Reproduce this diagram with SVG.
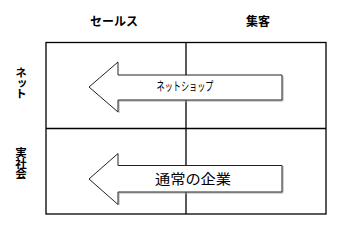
<svg xmlns="http://www.w3.org/2000/svg" width="346" height="230" viewBox="0 0 346 230">
<style>
.t{font-family:"Noto Sans CJK JP","Noto Sans CJK SC",sans-serif;fill:#000}
.h{font-size:12px;font-weight:bold}
.v{font-size:11.5px;font-weight:bold;writing-mode:vertical-rl;letter-spacing:-1px}
.grid{fill:none;stroke:#000;stroke-width:1.3}
.arrow{fill:#fff;stroke:#222;stroke-width:1}
.shadow{fill:none;stroke:#aaa;stroke-width:1}
</style>
<rect width="346" height="230" fill="#fff"/>
<g id="grid">
<rect class="grid" x="46" y="42.5" width="280" height="171.5"/>
<line class="grid" x1="186" y1="42.5" x2="186" y2="214"/>
<line class="grid" x1="46" y1="128.5" x2="326" y2="128.5"/>
</g>
<g id="headers">
<text class="t h" x="114" y="26" text-anchor="middle">セールス</text>
<text class="t h" x="258" y="26" text-anchor="middle">集客</text>
<text class="t v" x="21" y="83" text-anchor="middle">ネット</text>
<text class="t v" x="21" y="163" text-anchor="middle">実社会</text>
</g>
<g id="arrow-net">
<polyline class="shadow" points="283,76 283,101 119,101 119,113"/>
<path class="arrow" d="M89,87 L118,62 L118,75 L282,75 L282,100 L118,100 L118,112 Z"/>
<text class="t" x="185" y="91" font-size="12" text-anchor="middle" textLength="57" lengthAdjust="spacingAndGlyphs">ネットショップ</text>
</g>
<g id="arrow-real">
<polyline class="shadow" points="283,166 283,193 119,193 119,205"/>
<path class="arrow" d="M89,179 L118,153.5 L118,165.5 L282,165.5 L282,192 L118,192 L118,204.5 Z"/>
<text class="t" x="193" y="184" font-size="14" text-anchor="middle" textLength="76" lengthAdjust="spacingAndGlyphs">通常の企業</text>
</g>
</svg>
